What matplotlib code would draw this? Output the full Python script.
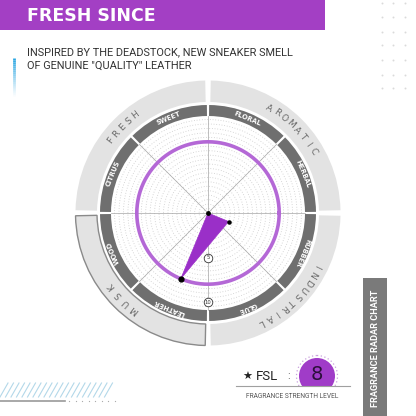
import numpy as np
import matplotlib
matplotlib.use("Agg")
import matplotlib.pyplot as plt
from matplotlib.patches import Rectangle, Circle

# ---------------- data ----------------
categories = ["SWEET", "FLORAL", "HERBAL", "RUBBER", "GLUE", "LEATHER", "WOOD", "CITRUS"]
values = [0, 0, 0, 2.5, 0, 8, 0, 0]
families = ["AROMATIC", "FRESH", "MUSK", "INDUSTRIAL"]
highlight_family = "MUSK"
fsl = 8
scale_ticks = [5, 10]
title = "FRESH SINCE"
subtitle = ["INSPIRED BY THE DEADSTOCK, NEW SNEAKER SMELL", "OF GENUINE \"QUALITY\" LEATHER"]

# ---------------- style ----------------
W = H = 416
PURPLE = "#A33FC4"
POLY = "#9A2FC8"
RINGC = "#B468D6"
DARK = "#6F6F6F"
LIGHT = "#E3E3E3"

fig = plt.figure(figsize=(4.16, 4.16), dpi=100)
fig.patch.set_facecolor("white")

# overlay axes in pixel coordinates
ax0 = fig.add_axes([0, 0, 1, 1])
ax0.set_xlim(0, W)
ax0.set_ylim(H, 0)
ax0.axis("off")

# header
ax0.add_patch(Rectangle((0, 0), 325, 30, color=PURPLE, lw=0))
ax0.text(27, 16, title, color="white", fontsize=12.5, fontweight="bold",
         family="DejaVu Sans", va="center", ha="left")
ax0.text(27, 52, subtitle[0], color="#333333", fontsize=7.9, family="Roboto", va="center", ha="left")
ax0.text(27, 66, subtitle[1], color="#333333", fontsize=7.9, family="Roboto", va="center", ha="left")
# cyan accent line with fade
ys = np.linspace(58, 96, 20)
for i in range(len(ys) - 1):
    ax0.plot([14, 14], [ys[i], ys[i + 1]], color="#2AA6E2", lw=2,
             alpha=max(0.0, 1 - i / 19) ** 1.2, solid_capstyle="butt")

# top-right dot grid
for gx in [382, 393, 405]:
    for gy in [3, 17, 32, 45, 60, 75, 88]:
        ax0.plot(gx, gy, "o", ms=1.4, color="#DADADA", mec="none")

# bottom-left hatch
for x in np.arange(0, 106, 5.5):
    ax0.plot([x, x + 8], [397, 383], color="#B3D8E9", lw=0.8)
ax0.plot([0, 65], [400.5, 400.5], color="#9A9A9A", lw=1.2)
for x in np.arange(69, 120, 6.5):
    ax0.plot(x, 400.5, "o", ms=0.9, color="#AAAAAA", mec="none")

# FSL badge
cx, cy = 317, 376
clip = Rectangle((0, 0), W, 386, transform=ax0.transData)
c1 = Circle((cx, cy), 18, color="#A03CC8", lw=0)
ax0.add_patch(c1)
c1.set_clip_path(clip)
c2 = Circle((cx, cy), 20.5, fill=False, ec="#C9A0DD", lw=0.9, ls=(0, (1, 2)))
ax0.add_patch(c2)
c2.set_clip_path(clip)
ax0.text(cx, cy - 1, str(fsl), fontsize=14, color="#2B0F3A", ha="center", va="center", family="DejaVu Sans")
ax0.plot([236, 350], [386, 386], color="#A0A0A0", lw=0.8)
ax0.text(247, 377, "\u2605", fontsize=8, color="#222222", ha="center", va="center", family="DejaVu Sans")
ax0.text(256, 377, "FSL", fontsize=9.5, color="#222222", ha="left", va="center", family="Roboto")
ax0.text(289, 376, ":", fontsize=8, color="#555555", ha="center", va="center", family="Roboto")
ax0.text(292, 396, "FRAGRANCE STRENGTH LEVEL", fontsize=4.8, color="#555555", ha="center", va="center", family="Roboto")

# right vertical box
ax0.add_patch(Rectangle((363, 278), 24, 140, color="#7A7A7A", lw=0))
ax0.text(375, 348, "FRAGRANCE RADAR CHART", rotation=90, fontsize=6.6, color="white",
         ha="center", va="center", family="Roboto", fontweight="bold")

# ---------------- radar ----------------
px_per_unit = 8.9
Rpx = 134
cxp, cyp = 208, 213
rect = [(cxp - Rpx) / W, (H - cyp - Rpx) / H, 2 * Rpx / W, 2 * Rpx / H]
ax = fig.add_axes(rect, projection="polar")
ax.set_ylim(0, Rpx / px_per_unit)
ax.axis("off")
ax.patch.set_alpha(0)

u = lambda p: p / px_per_unit
light_in, light_out = u(111), u(132.5)
dark_in, dark_out = u(97), u(108)

# family ring
fam_angles = [45 + 90 * k for k in range(len(families))]
for fam, a in zip(families, fam_angles):
    gap = 2.4
    hl = fam == highlight_family
    ax.bar(np.deg2rad(a), light_out - light_in, width=np.deg2rad(90 - gap), bottom=light_in,
           color=LIGHT, edgecolor="#8A8A8A" if hl else "none", linewidth=1.0 if hl else 0)
    n = len(fam)
    d = 4.2 if n > 4 else 5.2
    for i, ch in enumerate(fam):
        ang = a + (n - 1) / 2 * d - i * d
        ax.text(np.deg2rad(ang), u(121.5), ch, rotation=ang - 90, rotation_mode="anchor",
                ha="center", va="center", fontsize=6.5, color="#6A6A6A", family="DejaVu Sans")

# category band
cat_angles = [112.5 - 45 * i for i in range(len(categories))]
for cat, a in zip(categories, cat_angles):
    ax.bar(np.deg2rad(a), dark_out - dark_in, width=np.deg2rad(45 - 1.2), bottom=dark_in,
           color=DARK, lw=0)
    ax.text(np.deg2rad(a), (dark_in + dark_out) / 2, cat, rotation=a - 90, rotation_mode="anchor",
            ha="center", va="center", fontsize=4.8, color="white", fontweight="bold", family="DejaVu Sans")

# dotted grid rings
th = np.linspace(0, 2 * np.pi, 400)
for r in np.arange(0.5, 10.51, 0.5):
    ax.plot(th, np.full_like(th, r), color="#CACACA", lw=0.6, ls=(0, (1, 2.2)))

# spokes
for k in range(8):
    t = np.deg2rad(45 * k)
    ax.plot([t, t], [0, dark_in], color="#A5A5A5", lw=0.5)

# FSL circle
ax.plot(th, np.full_like(th, fsl), color=RINGC, lw=2.6)

# polygon: centre plus every non-zero category, in order
pt = [0.0] + [np.deg2rad(a) for a, v in zip(cat_angles, values) if v > 0]
pr = [0.0] + [v for v in values if v > 0]
ax.fill(pt, pr, color=POLY, lw=0.5, ec=POLY, zorder=5)
ax.scatter([0], [0], s=6, color="black", zorder=6)
for a, v in zip(cat_angles, values):
    if v > 0:
        ax.scatter(np.deg2rad(a), v, s=12 if v > 5 else 5, color="black", zorder=6)

# scale markers
for s in scale_ticks:
    ax.scatter(np.deg2rad(-90), s, s=38, facecolor="white", edgecolor="#333333", lw=0.6, zorder=7)
    ax.text(np.deg2rad(-90), s, str(s), fontsize=3.8, ha="center", va="center", color="#333333", zorder=8)

fig.savefig("out.png", dpi=100, facecolor="white")
